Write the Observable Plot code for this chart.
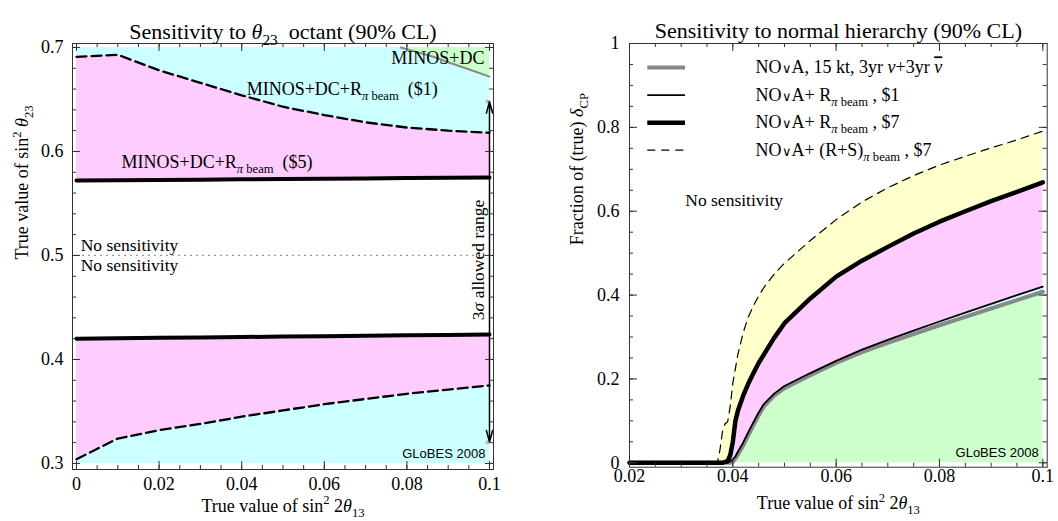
<!DOCTYPE html>
<html><head><meta charset="utf-8">
<script src="https://cdn.jsdelivr.net/npm/d3@7"></script>
<script src="https://cdn.jsdelivr.net/npm/@observablehq/plot@0.6"></script>
<style>
body{margin:0;background:#fff;}
#wrap{display:flex;width:1058px;height:521px;}
svg{display:block;}
#wrap text{font-weight:normal;}
</style></head><body><div id="wrap"></div>
<script>
// ---------- Left panel: octant sensitivity ----------
const octX = [0, 0.01, 0.02, 0.03, 0.04, 0.05, 0.06, 0.07, 0.08, 0.09, 0.1];
const octUpperDashed = [0.691, 0.693, 0.678, 0.666, 0.654, 0.643, 0.635, 0.628, 0.623, 0.620, 0.618];
const octUpperThick  = [0.572, 0.5723, 0.5726, 0.5729, 0.5732, 0.5735, 0.5738, 0.5741, 0.5744, 0.5747, 0.575];
const octLowerThick  = [0.420, 0.4204, 0.4208, 0.4212, 0.4216, 0.422, 0.4224, 0.4228, 0.4232, 0.4236, 0.424];
const octLowerDashed = [0.304, 0.324, 0.332, 0.338, 0.345, 0.351, 0.357, 0.362, 0.367, 0.371, 0.375];
const minosX = [0.0785, 0.0825, 0.0864, 0.0905, 0.0946, 0.1];
const minosY = [0.700, 0.6955, 0.691, 0.685, 0.6795, 0.672];
const octAllowed = [0.3205, 0.648];   // 3 sigma allowed range ends
const octXTicks = [0, 0.02, 0.04, 0.06, 0.08, 0.1];
const octYTicks = [0.3, 0.4, 0.5, 0.6, 0.7];
const octTitle = "Sensitivity to ~{θ}_{23}  octant (90% CL)";
const octXLabel = "True value of sin^{2} 2~{θ}_{13}";
const octYLabel = "True value of sin^{2} ~{θ}_{23}";
const octLabels = ["MINOS+DC", "MINOS+DC+R_{~{π} beam}  ($1)", "MINOS+DC+R_{~{π} beam}  ($5)", "No sensitivity", "3~{σ} allowed range"];

// ---------- Right panel: hierarchy sensitivity ----------
const hierX = [0.02, 0.036, 0.037, 0.0375, 0.038, 0.0385, 0.039, 0.0395, 0.04, 0.0405, 0.041, 0.042, 0.043, 0.044, 0.045, 0.046, 0.048, 0.05, 0.055, 0.06, 0.065, 0.07, 0.075, 0.08, 0.085, 0.09, 0.095, 0.1];
const hierNova   = [0, 0, 0, 0, 0, 0, 0, 0, 0.002, 0.01, 0.02, 0.041, 0.066, 0.09, 0.113, 0.134, 0.16, 0.178, 0.209, 0.238, 0.264, 0.286, 0.307, 0.328, 0.348, 0.368, 0.388, 0.408];
const hierR1     = [0, 0, 0, 0, 0, 0, 0, 0.003, 0.008, 0.015, 0.027, 0.048, 0.073, 0.097, 0.12, 0.14, 0.165, 0.183, 0.214, 0.243, 0.27, 0.293, 0.315, 0.337, 0.358, 0.379, 0.40, 0.42];
const hierR7     = [0, 0, 0, 0, 0, 0.002, 0.004, 0.018, 0.05, 0.1, 0.125, 0.16, 0.189, 0.214, 0.238, 0.258, 0.298, 0.333, 0.392, 0.444, 0.482, 0.515, 0.547, 0.575, 0.600, 0.624, 0.646, 0.669];
const hierRS7    = [0, 0, 0, 0.03, 0.075, 0.093, 0.098, 0.135, 0.19, 0.225, 0.26, 0.31, 0.348, 0.375, 0.398, 0.418, 0.45, 0.476, 0.53, 0.58, 0.622, 0.656, 0.685, 0.710, 0.731, 0.751, 0.770, 0.791];
const hierXTicks = [0.02, 0.04, 0.06, 0.08, 0.1];
const hierYTicks = [0, 0.2, 0.4, 0.6, 0.8, 1];
const hierTitle = "Sensitivity to normal hierarchy (90% CL)";
const hierXLabel = "True value of sin^{2} 2~{θ}_{13}";
const hierYLabel = "Fraction of (true) ~{δ}_{CP}";
const hierLegend = ["NO!{∨}A, 15 kt, 3yr ~{ν}+3yr ={~{ν}}", "NO!{∨}A+ R_{~{π} beam} , $1", "NO!{∨}A+ R_{~{π} beam} , $7", "NO!{∨}A+ (R+S)_{~{π} beam} , $7"];
const credit = "GLoBES 2008";

const CYAN = "#ccffff", PINK = "#ffccff", GREEN = "#ccffcc", YELLOW = "#ffffcc";
const SERIF = "'Liberation Serif','Times New Roman',serif";
const fmt = d => String(+(+d).toFixed(3));

function frameTicks(xMajor, xMinor, yMajor, yMinor, innerW, innerH) {
  const M = 8, m = 4, stroke = "#333";
  return [
    Plot.tickX(xMajor, {x: d => d, insetTop: innerH - M, stroke}),
    Plot.tickX(xMajor, {x: d => d, insetBottom: innerH - M, stroke}),
    Plot.tickX(xMinor, {x: d => d, insetTop: innerH - m, stroke}),
    Plot.tickX(xMinor, {x: d => d, insetBottom: innerH - m, stroke}),
    Plot.tickY(yMajor, {y: d => d, insetRight: innerW - M, stroke}),
    Plot.tickY(yMajor, {y: d => d, insetLeft: innerW - M, stroke}),
    Plot.tickY(yMinor, {y: d => d, insetRight: innerW - m, stroke}),
    Plot.tickY(yMinor, {y: d => d, insetLeft: innerW - m, stroke})
  ];
}

// ---- left plot ----
const octRows = octX.map((x, i) => ({x, ud: octUpperDashed[i], ut: octUpperThick[i], lt: octLowerThick[i], ld: octLowerDashed[i]}));
const minosRows = minosX.map((x, i) => ({x, y: minosY[i]}));
const L = {W: 529, H: 521, ml: 72, mr: 36, mt: 43, mb: 52};
const LiW = L.W - L.ml - L.mr, LiH = L.H - L.mt - L.mb;

const left = Plot.plot({
  width: L.W, height: L.H,
  marginLeft: L.ml, marginRight: L.mr, marginTop: L.mt, marginBottom: L.mb,
  style: {fontFamily: SERIF, fontSize: "18px", fontWeight: "normal", background: "white", overflow: "visible", color: "black"},
  x: {domain: [-0.00097, 0.10097]},
  y: {domain: [0.2942, 0.7038]},
  marks: [
    Plot.areaY(octRows, {x: "x", y1: 0.3, y2: "ld", fill: CYAN}),
    Plot.areaY(octRows, {x: "x", y1: "ld", y2: "lt", fill: PINK}),
    Plot.areaY(octRows, {x: "x", y1: "ut", y2: "ud", fill: PINK}),
    Plot.areaY(octRows, {x: "x", y1: "ud", y2: 0.7, fill: CYAN}),
    Plot.areaY(minosRows, {x: "x", y1: "y", y2: 0.7, fill: GREEN}),
    Plot.ruleY([0.5], {x1: 0, x2: 0.1, stroke: "#999", strokeWidth: 1.2, strokeDasharray: "2,4"}),
    Plot.line(minosRows, {x: "x", y: "y", stroke: "#888", strokeWidth: 2}),
    Plot.line(octRows, {x: "x", y: "ud", stroke: "black", strokeWidth: 2.3, strokeDasharray: "10,5"}),
    Plot.line(octRows, {x: "x", y: "ld", stroke: "black", strokeWidth: 2.3, strokeDasharray: "10,5"}),
    Plot.line(octRows, {x: "x", y: "ut", stroke: "black", strokeWidth: 4}),
    Plot.line(octRows, {x: "x", y: "lt", stroke: "black", strokeWidth: 4}),
    Plot.dot(octAllowed, {x: 0.0995, y: d => d, r: 2, fill: "#bbb"}),
    Plot.arrow(octAllowed, {x1: 0.1, x2: 0.1, y1: 0.49, y2: d => d, stroke: "black", strokeWidth: 1.5, headLength: 12, headAngle: 30}),
    Plot.frame({stroke: "#333"}),
    ...frameTicks(octXTicks, d3.range(0, 0.1001, 0.005), octYTicks, d3.range(0.3, 0.7001, 0.02), LiW, LiH),
    Plot.axisX(octXTicks, {anchor: "bottom", tickSize: 0, tickPadding: 8, tickFormat: fmt, fontSize: 18, label: null}),
    Plot.axisY(octYTicks, {anchor: "left", tickSize: 0, tickPadding: 9, tickFormat: fmt, fontSize: 18, label: null}),
    Plot.text([octLabels[0]], {x: 0.0988, y: 0.6894, textAnchor: "end", fontSize: 18}),
    Plot.text([octLabels[1]], {x: 0.0412, y: 0.6596, textAnchor: "start", fontSize: 18}),
    Plot.text([octLabels[2]], {x: 0.0109, y: 0.5894, textAnchor: "start", fontSize: 18}),
    Plot.text([octLabels[3], octLabels[3]], {x: 0.001, y: (d, i) => i ? 0.4904 : 0.5096, textAnchor: "start", fontSize: 17.5}),
    Plot.text([octLabels[4]], {x: 0.0973, y: 0.4957, rotate: -90, fontSize: 17.5}),
    Plot.text([credit], {x: 0.099, y: 0.3096, textAnchor: "end", fontSize: 13, fontFamily: "'Liberation Sans',Arial,sans-serif"}),
    Plot.text([octTitle], {frameAnchor: "top", dy: -20, fontSize: 22}),
    Plot.text([octXLabel], {frameAnchor: "bottom", dy: 42.5, fontSize: 18}),
    Plot.text([octYLabel], {frameAnchor: "left", dx: -50, dy: 3, rotate: -90, fontSize: 18})
  ]
});

// ---- right plot ----
const hierRows = hierX.map((x, i) => ({x, nova: hierNova[i], r1: hierR1[i], r7: hierR7[i], rs7: hierRS7[i]}));
const R = {W: 529, H: 521, ml: 100, mr: 11.3, mt: 43, mb: 54.3};
const RiW = R.W - R.ml - R.mr, RiH = R.H - R.mt - R.mb;
const legY = i => 0.9426 - i * 0.0657;
const legStyles = [
  {stroke: "#888", strokeWidth: 4},
  {stroke: "black", strokeWidth: 1.8},
  {stroke: "black", strokeWidth: 4.5},
  {stroke: "black", strokeWidth: 1.2, strokeDasharray: "8,6"}
];

const right = Plot.plot({
  width: R.W, height: R.H,
  marginLeft: R.ml, marginRight: R.mr, marginTop: R.mt, marginBottom: R.mb,
  style: {fontFamily: SERIF, fontSize: "18px", fontWeight: "normal", background: "white", overflow: "visible", color: "black"},
  x: {domain: [0.02, 0.10085]},
  y: {domain: [-0.0105, 1.0]},
  marks: [
    Plot.areaY(hierRows, {x: "x", y1: 0, y2: "nova", fill: GREEN}),
    Plot.areaY(hierRows, {x: "x", y1: "nova", y2: "r1", fill: CYAN}),
    Plot.areaY(hierRows, {x: "x", y1: "r1", y2: "r7", fill: PINK}),
    Plot.areaY(hierRows, {x: "x", y1: "r7", y2: "rs7", fill: YELLOW}),
    Plot.line(hierRows, {x: "x", y: "rs7", stroke: "black", strokeWidth: 1.2, strokeDasharray: "8,6"}),
    Plot.line(hierRows, {x: "x", y: "nova", stroke: "#888", strokeWidth: 4}),
    Plot.line(hierRows, {x: "x", y: "r1", stroke: "black", strokeWidth: 1.8}),
    Plot.line(hierRows, {x: "x", y: "r7", stroke: "black", strokeWidth: 4.5}),
    Plot.frame({stroke: "#333"}),
    ...frameTicks(hierXTicks, d3.range(0.02, 0.1001, 0.005), hierYTicks, d3.range(0, 1.0001, 0.05), RiW, RiH),
    Plot.axisX(hierXTicks, {anchor: "bottom", tickSize: 0, tickPadding: 2, tickFormat: fmt, fontSize: 18, label: null}),
    Plot.axisY(hierYTicks, {anchor: "left", tickSize: 0, tickPadding: 10, tickFormat: fmt, fontSize: 18, label: null}),
    ...legStyles.map((s, i) => Plot.ruleY([legY(i)], {x1: 0.02354, x2: 0.03084, ...s})),
    Plot.text(hierLegend, {x: 0.0444, y: (d, i) => legY(i), textAnchor: "start", fontSize: 18}),
    Plot.text(["No sensitivity"], {x: 0.0308, y: 0.625, textAnchor: "start", fontSize: 17.5}),
    Plot.text([credit], {x: 0.0992, y: 0.0246, textAnchor: "end", fontSize: 13, fontFamily: "'Liberation Sans',Arial,sans-serif"}),
    Plot.text([hierTitle], {frameAnchor: "top", dy: -21, fontSize: 22}),
    Plot.text([hierXLabel], {frameAnchor: "bottom", dy: 42, fontSize: 18}),
    Plot.text([hierYLabel], {frameAnchor: "left", dx: -52, dy: -10, rotate: -90, fontSize: 18})
  ]
});

const wrap = document.getElementById("wrap");
wrap.appendChild(left);
wrap.appendChild(right);

// rich text: _{sub} ^{sup} ~{italic} !{small} ={overline}
function richify(el) {
  const src = el.textContent;
  if (!/[_^~!=]\{/.test(src)) return;
  const base = parseFloat(getComputedStyle(el).fontSize) || 18;
  const segs = [], stack = [];
  let buf = "";
  const flush = () => {
    if (!buf) return;
    let shift = 0, scale = 1;
    for (const t of stack) {
      if (t === "_") { shift += 0.28 * scale; scale *= 0.7; }
      else if (t === "^") { shift -= 0.42 * scale; scale *= 0.7; }
      else if (t === "!") { scale *= 0.72; }
    }
    segs.push({text: buf, shift, scale, italic: stack.includes("~"), over: stack.includes("=")});
    buf = "";
  };
  for (let i = 0; i < src.length; i++) {
    const c = src[i];
    if ("_^~!=".includes(c) && src[i + 1] === "{") { flush(); stack.push(c); i++; }
    else if (c === "}" && stack.length) { flush(); stack.pop(); }
    else buf += c;
  }
  flush();
  while (el.firstChild) el.removeChild(el.firstChild);
  el.style.whiteSpace = "pre";
  let prev = 0;
  for (const s of segs) {
    const t = document.createElementNS("http://www.w3.org/2000/svg", "tspan");
    t.textContent = s.text;
    const sh = s.shift * base;
    if (Math.abs(sh - prev) > 1e-6) t.setAttribute("dy", (sh - prev).toFixed(2));
    prev = sh;
    if (s.scale !== 1) t.setAttribute("font-size", (base * s.scale).toFixed(2));
    if (s.italic) t.setAttribute("font-style", "italic");
    if (s.over) t.style.textDecoration = "overline";
    el.appendChild(t);
  }
}
document.querySelectorAll("#wrap text").forEach(richify);
</script></body></html>
